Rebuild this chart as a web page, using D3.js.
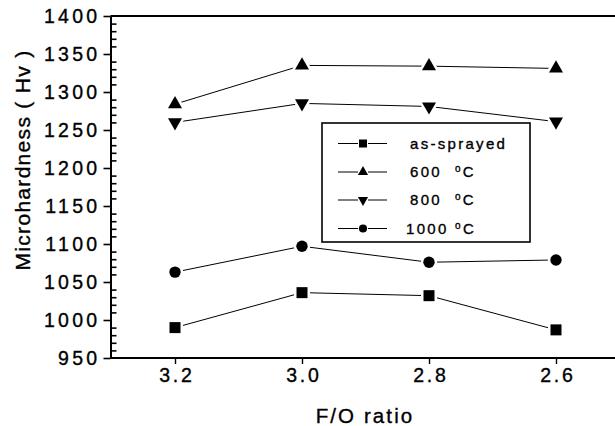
<!DOCTYPE html>
<html><head><meta charset="utf-8">
<script src="https://cdn.jsdelivr.net/npm/d3@7"></script>
<style>
body{margin:0;background:#fff;}
svg{display:block;font-family:"Liberation Sans",Arial,Helvetica,sans-serif;}
text{stroke:#000;stroke-width:0.35px;}
</style></head>
<body><svg id="c" width="615" height="426"></svg>
<script>
const categories = ["3.2","3.0","2.8","2.6"];
const asSprayed = [990,1036,1032,987];
const t600 = [1284,1335,1334,1331];
const t800 = [1260,1285,1281,1261];
const t1000 = [1063,1097,1076,1079];
const yTicks = [950,1000,1050,1100,1150,1200,1250,1300,1350,1400];
const seriesNames = ["as-sprayed","600","800","1000"];

const svg = d3.select("#c");
const L = 110.5, T = 16, R = 640, B = 358;
const x = d3.scalePoint().domain(categories).range([175, 556]);
const y = d3.scaleLinear().domain([950,1400]).range([B, T]);

// top border
svg.append("line").attr("x1",L).attr("x2",R).attr("y1",T).attr("y2",T)
  .attr("stroke","#000").attr("stroke-width",2);

// y axis minor ticks (inward)
const minor = d3.range(950,1401,10).filter(v=>v%50!==0);
svg.append("g").attr("transform",`translate(${L},0)`)
  .call(d3.axisLeft(y).tickValues(minor).tickSize(-6).tickFormat(""))
  .call(g=>g.select(".domain").remove())
  .selectAll("line").attr("stroke-width",1.6);

// y axis major
const ya = svg.append("g").attr("transform",`translate(${L},0)`)
  .call(d3.axisLeft(y).tickValues(yTicks).tickSize(7).tickSizeOuter(0).tickFormat(d3.format("d")));
ya.select(".domain").attr("stroke-width",2);
ya.selectAll("line").attr("stroke-width",1.6);
ya.selectAll("text").attr("x",-10).attr("font-size",19.5).attr("letter-spacing","3.3px")
  .attr("fill","#000").attr("font-family",null);

// x axis
const xa = svg.append("g").attr("transform",`translate(0,${B})`)
  .call(d3.axisBottom(x).tickSize(6).tickSizeOuter(0));
xa.select(".domain").attr("d",`M${L},0H${R}`).attr("stroke-width",2);
xa.selectAll("line").attr("stroke-width",1.4);
xa.selectAll("text").attr("y",10).attr("font-size",19.5).attr("letter-spacing","2.8px")
  .attr("fill","#000").attr("font-family",null).attr("dx","1.4px");

// axis titles
svg.append("text").attr("transform","translate(30,160) rotate(-90)")
  .attr("text-anchor","middle").attr("font-size",21).attr("letter-spacing","1.3px")
  .text("Microhardness ( Hv )");
svg.append("text").attr("x",365).attr("y",423).attr("text-anchor","middle")
  .attr("font-size",20.5).attr("letter-spacing","2.1px").text("F/O ratio");

const series = [
  {vals:asSprayed, type:d3.symbolSquare, size:121, rot:0, lsize:64},
  {vals:t600, type:d3.symbolTriangle, size:85, rot:0, lsize:45},
  {vals:t800, type:d3.symbolTriangle, size:85, rot:180, lsize:45},
  {vals:t1000, type:d3.symbolCircle, size:102, rot:0, lsize:52}
];
const line = d3.line().x((d,i)=>x(categories[i])).y(d=>y(d));
series.forEach(s=>{
  svg.append("path").attr("d",line(s.vals)).attr("fill","none").attr("stroke","#000").attr("stroke-width",1);
  svg.append("g").selectAll("path").data(s.vals).join("path")
    .attr("transform",(d,i)=>`translate(${x(categories[i])},${y(d)}) rotate(${s.rot})`)
    .attr("d",d3.symbol().type(s.type).size(s.size))
    .attr("fill","#000").attr("stroke","#fff").attr("stroke-width",5)
    .style("paint-order","stroke");
});

// legend
const lg = svg.append("g");
lg.append("rect").attr("x",322).attr("y",123).attr("width",208).attr("height",119)
  .attr("fill","#fff").attr("stroke","#000").attr("stroke-width",1.6);
const rowY = [143.5,172,200,228.5];
series.forEach((s,i)=>{
  const g = lg.append("g").attr("transform",`translate(0,${rowY[i]})`);
  g.append("line").attr("x1",338).attr("x2",358).attr("stroke","#000").attr("stroke-width",1);
  g.append("line").attr("x1",368).attr("x2",387).attr("stroke","#000").attr("stroke-width",1);
  g.append("path").attr("transform",`translate(363,0) rotate(${s.rot})`)
    .attr("d",d3.symbol().type(s.type).size(s.lsize)).attr("fill","#000");
  const t = g.append("text").attr("x", i===3?406:410).attr("dy","0.36em")
    .attr("font-size",15).attr("letter-spacing","2.3px");
  if(i===0){ t.text(seriesNames[0]); }
  else {
    t.append("tspan").text(seriesNames[i] + (i===3?" ":"\u00a0\u00a0"));
    t.append("tspan").attr("font-size",10).attr("dy","-0.5em").text("o");
    t.append("tspan").attr("dy","0.33em").text("C");
  }
});
</script></body></html>
